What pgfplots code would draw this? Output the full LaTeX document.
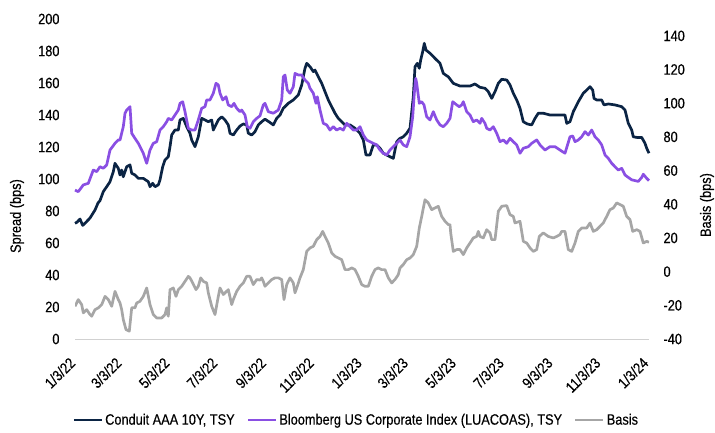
\documentclass[border=0pt]{standalone}
\usepackage{pgfplots}
\pgfplotsset{compat=1.18}
\usepackage{pgfplotstable}
\usepackage{fontspec}
\setmainfont{Liberation Sans}[FakeStretch=0.85,FakeBold=0.4]
\definecolor{navy}{HTML}{0B2444}
\definecolor{purp}{HTML}{8A4FE3}
\definecolor{gry}{HTML}{A6A6A6}

% x is the horizontal position of the date (1/3/22 = 75, 1/3/24 = 648.1)
\pgfplotstableread{
x y
75 72.3
77 73
80 75
82.7 71
86 73
90 75.6
95 80.6
98 85
100 86.5
103.3 92.1
106.7 95.2
110 98.3
113.3 104.6
115 109.8
118.3 106.7
120 102.5
121.7 105.6
123.3 101.4
126.7 107.7
130 108.8
131.7 103.6
135 102.5
138.3 100.4
143.3 100.4
148.3 98.3
150 95.2
152.7 97.3
155 95.2
158.3 96.3
160 99.4
162.7 107.7
165 111.9
168.3 113.9
170 120.2
171.7 127.5
175 130.6
178.3 130.6
180 136.9
183.3 137.9
186.7 132.7
190 128.6
191.7 124.4
195 120.2
198.3 126.4
201.7 137.9
205 136.9
208.3 135.8
211.7 136.9
213.3 130.6
216.7 134.8
218.3 136.9
221.7 138.9
225 136.9
228.3 133.8
230 128.6
233.3 127.5
236.7 130.6
240 133.1
243.3 134.4
246.7 133.8
248.3 128.6
251.7 127.5
255 129.6
258.3 133.8
261.7 135.8
265 137.4
270 135.3
273.3 133.8
276.7 137.9
280 140
283.3 144.2
288.3 147.3
293.3 149.4
298.3 152.5
301.7 158.8
305 169.2
306.7 172.3
310 170.2
313.3 167.1
315 168.1
318.3 163.9
321.7 159.8
325 154.6
328.3 149.4
331.7 145.2
335 141.1
338.3 137.9
341.7 135.8
345 133.8
350 133.8
355 131.7
360 128.6
363.3 124.4
366 115
370 115
373.3 121.3
376.7 121.3
380 119.2
383.3 116.1
386.7 115
390 113.9
393.3 112.9
395 118.1
396.7 123.3
400 125.4
403.3 126.4
406.7 128.6
410 131.7
413.3 151.4
415 170.2
417.3 172.3
419.3 169.2
420.7 174.4
422.7 179.6
424.3 184.8
426 180.6
430 178.6
435 175.4
440 172.3
443.3 166
448.3 163.9
453.3 159.8
460 158.1
470 158.1
475 159.4
480 157.3
485 156.7
488.3 154.6
491.7 150.4
495 154.6
498.3 159.8
501.7 162.3
506.7 161.9
510 158.8
513.3 153.6
516.7 149.4
520 144.2
523.3 135.8
527.3 134.4
531.7 133.8
535 137.9
538.3 141.1
543.3 141.1
550 140
556.7 140
565 140
566.7 134.8
570 135.8
573.3 142.1
578.3 148.3
583.3 153.6
586.7 155.6
590 157.7
592.7 155.6
594 150.4
596.7 149.4
601.7 149.4
604 146.3
608.3 146.9
615 146.3
621.7 145.2
625 143.1
628.3 134.8
631.7 130.6
633.3 126.4
636.7 126
641.7 126
645 122.3
646.7 119.2
649 116.1
}\conduit

\pgfplotstableread{
x y
75 93.1
78.3 92.1
83.3 96.3
88.3 97.3
93.3 105.6
96.7 104.6
100 107.7
103.3 106.7
106.7 108.8
110 118.1
115 122.3
118.3 124.4
120 124.4
123.3 132.7
125 141.1
126.7 143.1
130 145.2
131.7 128.6
135 125.4
138.3 122.3
140 120.2
143.3 116.1
146.7 109.8
150 118.1
153.3 122.3
156.7 123.3
160 130.6
163.3 132.7
166.7 135.8
168.3 137.9
171.7 136.9
175 140
178.3 143.1
180 147.3
182.7 148.3
185 142.1
188.3 131.7
191.7 130.6
195 130.6
198.3 136.9
201.7 144.2
205 145.2
206.7 149.4
210 149.4
213.3 153.6
216 159.8
218.3 158.8
220 153.6
222.7 149.4
226 151.4
228.3 146.3
231.7 145.2
234 147.3
236.7 144.2
240 142.1
241.7 143.1
245 140
247.3 132.7
250 131.7
253.3 135.8
256.7 137.9
260 139.5
263.3 146.3
265 147.3
268.3 142.1
273.3 141.1
278.3 143.1
281.7 149.4
283.3 163.9
285 165
287.3 155.6
290 153.6
293.3 157.7
295 166
298.3 165
301.7 165
305 161.9
308.3 159.8
310 156.7
313.3 153.6
316 147.3
317.3 151.4
320 143.1
323.3 134.8
326.7 133.8
330 130.6
333.3 132.7
336.7 130.6
340 131.7
343.3 130.6
346.7 134.8
350 132.7
353.3 130.6
356.7 130.6
360 132.7
363.3 127.5
366.7 124.4
370 123.3
373.3 122.3
376.7 121.3
380 118.1
383.3 116.1
386.7 115
390 118.1
393.3 120.2
396.7 122.3
400 124.4
403.3 121.3
406.7 120.2
410 126.4
412.7 138.9
414.3 153.6
415.7 162.9
416.7 159.8
419.3 147.3
421.7 148.3
424 146.3
426.7 138.9
430 136.9
433.3 142.1
436.7 136.9
440 133.8
443.3 132.7
446.7 134.8
450 137.9
452.7 148.3
456.7 146.3
459.3 145.2
461.7 146.3
463.3 148.3
466.7 142.1
470 140
473.3 135.8
476.7 136.9
480 134.8
481.7 137.9
485 134.8
486.7 131.7
490 130.6
493.3 132.7
496.7 128.6
500 123.3
503.3 124.4
506.7 122.3
510 125.4
513.3 123.3
516.7 121.3
520 116.1
523.3 119.2
528.3 120.2
531.7 122.3
536.7 124.4
540 121.3
545 118.1
550 120.2
555 120.2
560 118.1
565 116.1
570 126.4
572.7 126.9
575 123.3
578.3 124.4
581.7 126.4
585 129.6
588.3 127.5
591.7 130.6
595 126.4
598.3 124.4
601.7 121.3
605 115
608.3 112.9
611.7 109.8
615 107.7
618.3 105.6
621.7 106.7
625 102.5
628.3 101
631.7 99.5
635 99
638.3 98.5
641.7 101
643.3 103
646.7 100.4
649 99
}\bbg

\pgfplotstableread{
x y
75 -20.6
78.3 -16.6
81.7 -19.6
83.3 -24.5
86.7 -22.6
90 -25.5
91.7 -26.5
95 -22.6
98.3 -21.5
101.7 -19.6
105 -14.7
108.3 -16.6
111.7 -20.6
115 -11.7
118.3 -16.6
120 -18.6
121.7 -22.6
123.3 -28.5
126 -34.4
129.3 -35.4
131.7 -21.5
135 -21.5
136.7 -18.6
140 -17.6
143.3 -14.7
146.7 -9.7
150 -19.6
153.3 -25.5
156.7 -27.5
161.7 -27.5
165 -25.5
166.7 -21.5
168.3 -26.5
170 -10.7
173.3 -9.7
176 -14.7
178.3 -10.7
181.7 -8.7
185 -5.8
188.3 -2.8
190 -3.7
192.7 -6.7
196 -10.7
198.3 -8.7
200.7 -3.7
203.3 -5.8
206.7 -6.7
208.3 -12.6
211.7 -20.6
215 -25.5
218.3 -14.7
220 -9.7
223.3 -13.6
225 -12.6
228.3 -10.7
231.7 -19.6
233.3 -16.6
236.7 -11.7
240 -8.7
243.3 -6.7
246.7 -2.8
250 -2.8
253.3 -7.7
256.7 -4.7
260 -5
261.7 -3.7
263.3 -5.8
265 -8.7
268.3 -6.7
271.7 -4.7
275 -3.7
278.3 -3.7
281.7 -4.7
284 -16.6
286.7 -7.7
290 -3.7
293.3 -6.7
295 -12.6
297.3 -8.7
300 -3.7
303.3 1.2
306.7 12.0
310 14.1
313.3 15.0
316.7 19.0
320 20.9
322.7 23.9
325 20.9
328.3 17.0
331.7 11.1
335 9.1
338.3 8.1
341.7 7.1
345 1.2
348.3 1.2
351.7 2.2
355 1.2
358.3 -2.8
361.7 -7.7
365 -8.7
368.3 -8.7
371.7 -2.8
375 1.2
378.3 2.2
381.7 1.2
385 1.2
388.3 -3.7
391.7 -6.7
395 -4.7
398.3 -1.8
400 2.2
403.3 4.2
406.7 7.1
410 8.1
413.3 10.1
416.7 15.0
419.3 25.9
421.7 32.8
425 42.7
428.3 40.8
431.7 36.8
435 37.8
438.3 38.8
441.7 32.8
445 29.9
448.3 27.9
450 27.9
450.7 23.0
453.3 12.0
456.7 13.1
460 13.1
463.3 10.1
466.7 14.1
470 17.0
473.3 20.0
476.7 20.9
478.3 23.9
480 20.9
483.3 20.0
486.7 24.9
490 23.0
491.7 19.0
495 19.0
498.3 35.8
501.7 38.8
506.7 39.2
510 33.8
513.3 32.8
515 28.9
520 29.9
523.3 18.0
526.7 17.0
530 14.1
533.3 12.0
536.7 13.1
539.3 20.9
543.3 23.0
548.3 20.9
553.3 20.0
556.7 20.9
560 22.0
561.7 23.9
565 23.9
568.3 13.1
571.7 12.0
575 17.0
578.3 23.9
581.7 25.9
586.7 25.9
590 28.9
593.3 23.9
596.7 24.9
600 26.9
603.3 28.9
606.7 32.8
610 36.8
613.3 37.8
616.7 40.8
620 39.8
623.3 38.8
626.7 32.8
630 30.9
632.7 23.9
636.7 24.9
640 23.9
643.3 17.0
646.7 18.0
649 17.4
}\basis

\begin{document}
\begin{tikzpicture}[font=\fontsize{15}{18}\selectfont]
\useasboundingbox (0,0) rectangle (715pt,432pt);
\begin{axis}[
  at={(75pt,93pt)}, anchor=south west,
  scale only axis, width=574pt, height=320pt,
  xmin=75, xmax=649, ymin=0, ymax=200,
  axis x line*=bottom, axis y line*=left,
  x axis line style={draw=black!18, line width=1pt, -},
  y axis line style={draw=none},
  major tick length=0pt,
  ytick={0,20,...,200},
  xtick={75,121.3,169.2,217.1,265.8,313.6,361.5,407.8,455.7,503.6,552.3,600.2,648.1},
  xticklabels={1/3/22,3/3/22,5/3/22,7/3/22,9/3/22,11/3/22,1/3/23,3/3/23,5/3/23,7/3/23,9/3/23,11/3/23,1/3/24},
  xticklabel style={xshift=-6.5pt, yshift=-12.5pt, rotate=45, anchor=north east},
  yticklabel style={xshift=-12pt},
  /pgf/number format/assume math mode=true,
  clip=false,
  legend style={at={(0.49,-0.253)}, anchor=center, draw=none, fill=none,
    legend columns=3, column sep=0pt,
    /tikz/every even column/.append style={column sep=10pt},
    font=\fontsize{15}{18}\selectfont},
  legend cell align=left,
  legend image code/.code={\draw[#1] (0pt,0pt) -- (28pt,0pt);},
]
\addplot[navy, line width=2.7pt, line join=round] table {\conduit};
\addlegendentry{Conduit AAA 10Y, TSY}
\addplot[purp, line width=2.7pt, line join=round] table {\bbg};
\addlegendentry{Bloomberg US Corporate Index (LUACOAS), TSY}
\addlegendimage{gry, line width=2.7pt}
\addlegendentry{Basis}
\end{axis}
\begin{axis}[
  at={(75pt,93pt)}, anchor=south west,
  scale only axis, width=574pt, height=320pt,
  xmin=75, xmax=649, ymin=-40, ymax=150,
  axis x line=none, axis y line*=right,
  y axis line style={draw=none},
  major tick length=0pt,
  ytick={-40,-20,...,140},
  yticklabel style={xshift=11pt},
  /pgf/number format/assume math mode=true,
]
\addplot[gry, line width=2.7pt, line join=round] table {\basis};
\end{axis}
\node[rotate=90] at (17pt,216pt) {Spread (bps)};
\node[rotate=90] at (707pt,227pt) {Basis (bps)};
\end{tikzpicture}
\end{document}
